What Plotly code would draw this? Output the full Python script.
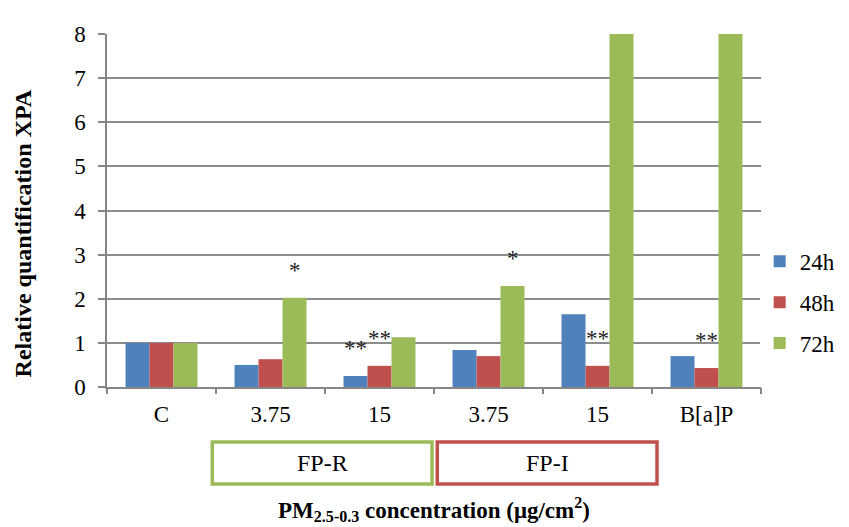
import plotly.graph_objects as go

categories = ["C", "3.75", "15", "3.75", "15", "B[a]P"]
series_names = ["24h", "48h", "72h"]
values_24h = [1.0, 0.50, 0.25, 0.84, 1.65, 0.70]
values_48h = [1.0, 0.63, 0.48, 0.70, 0.48, 0.43]
values_72h = [1.0, 2.02, 1.13, 2.29, 8.0, 8.0]
colors = ["#4F81BD", "#C0504D", "#9BBB59"]

FONT = "Liberation Serif, Times New Roman, serif"
pos = list(range(len(categories)))

fig = go.Figure()
for name, vals, col in zip(series_names, [values_24h, values_48h, values_72h], colors):
    fig.add_trace(go.Bar(x=pos, y=vals, name=name, legendgroup=name, marker_color=col,
                         marker_line_width=0))

# invisible trace so the boundary-tick axis gets drawn
fig.add_trace(go.Scatter(x=[-0.5, 5.5], y=[0, 0], xaxis="x2", mode="lines",
                         line=dict(width=0), showlegend=False, hoverinfo="skip"))

# significance markers: (category index, series index, label, y position)
marks = [
    (1, 2, "*", 2.65),
    (2, 0, "**", 0.88),
    (2, 1, "**", 1.1),
    (3, 2, "*", 2.92),
    (4, 1, "**", 1.1),
    (5, 1, "**", 1.05),
    (4, 2, "*", 8.3),
    (5, 2, "*", 8.3),
]
offsets = [-24, 0, 24]
for ci, idx, txt, yv in marks:
    fig.add_annotation(x=pos[ci], y=yv, text=txt, showarrow=False, xshift=offsets[idx],
                       font=dict(family=FONT, size=23, color="#222"))

# group boxes under the axis
boxes = [("FP-R", 0.161, 0.497, "#9BBB59"), ("FP-I", 0.505, 0.841, "#C0504D")]
for label, x0, x1, col in boxes:
    fig.add_shape(type="rect", xref="paper", yref="paper", x0=x0, x1=x1,
                  y0=-0.275, y1=-0.156, line=dict(color=col, width=3.5))
    fig.add_annotation(xref="paper", yref="paper", x=(x0 + x1) / 2, y=-0.215,
                       xanchor="center", yanchor="middle", text=label, showarrow=False,
                       font=dict(family=FONT, size=24, color="black"))

fig.add_annotation(xref="paper", yref="paper", x=0.5, y=-0.348,
                   xanchor="center", yanchor="middle",
                   text="<b>PM<sub>2.5-0.3</sub> concentration (μg/cm<sup>2</sup>)</b>",
                   showarrow=False, font=dict(family=FONT, size=23, color="black"))

# y title sits a bit below the plot centre in the original
fig.add_annotation(xref="paper", yref="paper", x=-0.128, y=0.436,
                   xanchor="center", yanchor="middle", textangle=-90,
                   text="<b>Relative quantification XPA</b>",
                   showarrow=False, font=dict(family=FONT, size=24, color="black"))

# page body has an 8px margin, so the figure is sized to fit inside the window
fig.update_layout(
    width=841, height=519,
    margin=dict(l=99, r=88, t=26, b=140, autoexpand=False),
    paper_bgcolor="white", plot_bgcolor="white",
    barmode="group", bargap=0.34, bargroupgap=0,
    font=dict(family=FONT, size=23, color="black"),
    legend=dict(x=0.998, y=0.24, yanchor="middle", font=dict(family=FONT, size=23),
                tracegroupgap=8, itemwidth=30),
    xaxis=dict(range=[-0.5, 5.5], tickvals=pos, ticktext=categories, ticks="",
               tickangle=0, showgrid=False, showline=True, linecolor="#868686",
               linewidth=1.5, zeroline=False, tickfont=dict(size=23), automargin=False,
               ticklabelstandoff=6),
    xaxis2=dict(overlaying="x", range=[-0.5, 5.5], tickvals=[i - 0.5 for i in range(7)],
                showticklabels=False, ticks="outside", ticklen=6, tickcolor="#868686",
                tickwidth=1.5, showgrid=False, zeroline=False, side="bottom",
                anchor="y", automargin=False),
)
fig.update_yaxes(range=[0, 8], dtick=1, showgrid=True, gridcolor="#8c8c8c", gridwidth=1.5,
                 showline=True, linecolor="#868686", linewidth=1.5, ticks="outside",
                 ticklen=7, tickcolor="#868686", tickwidth=1.5, zeroline=False,
                 tickfont=dict(size=23), automargin=False, ticklabelstandoff=8)

fig.write_html("out.html")
